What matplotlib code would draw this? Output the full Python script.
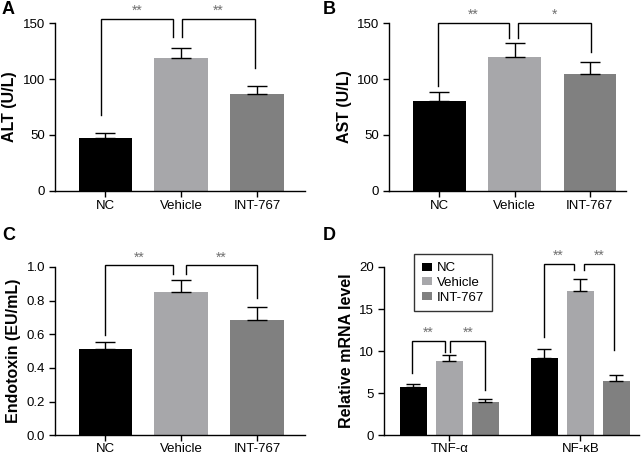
import matplotlib
matplotlib.use('Agg')
import matplotlib.pyplot as plt
from matplotlib.patches import Patch

plt.rcParams['font.family'] = ['Liberation Sans', 'DejaVu Sans']

groups = ['NC', 'Vehicle', 'INT-767']
colors = ['#000000', '#a7a7aa', '#808080']

alt_mean = [47, 119, 87]
alt_err = [5, 9, 7]
ast_mean = [80, 120, 105]
ast_err = [8, 12, 10]
endo_mean = [0.51, 0.85, 0.685]
endo_err = [0.045, 0.07, 0.08]

genes = ['TNF-\u03b1', 'NF-\u03baB']
mrna_nc = [5.7, 9.2]
mrna_nc_err = [0.45, 1.0]
mrna_veh = [8.8, 17.1]
mrna_veh_err = [0.7, 1.5]
mrna_int = [4.0, 6.5]
mrna_int_err = [0.3, 0.65]

# brackets: (x1, x2, top, left leg end, right leg end, label)
alt_brackets = [(-0.05, 0.9, 154, 68, 138, '**'), (1.01, 1.97, 154, 138, 110, '**')]
ast_brackets = [(-0.02, 0.92, 150.5, 94, 137, '**'), (1.05, 2.01, 150.5, 137, 124, '*')]
endo_brackets = [(0.0, 0.89, 1.01, 0.594, 0.96, '**'), (1.07, 2.0, 1.01, 0.96, 0.816, '**')]
mrna_brackets = [(-0.284, -0.037, 11.2, 7.36, 9.93, '**'), (0.006, 0.276, 11.2, 9.93, 5.38, '**'),
                 (-0.28, -0.05, 20.4, 11.7, 19.6, '**'), (0.025, 0.26, 20.4, 19.6, 10.1, '**')]


def style(ax, pad=3):
    for s in ['top', 'right']:
        ax.spines[s].set_visible(False)
    for s in ['left', 'bottom']:
        ax.spines[s].set_linewidth(1.0)
    ax.tick_params(direction='out', length=4, width=1.0, labelsize=9.5, pad=3)
    ax.tick_params(axis='x', pad=pad)


def brackets(ax, items, dy, shift=None):
    for i, (x1, x2, top, b1, b2, lab) in enumerate(items):
        s = shift[i] if shift else 0
        x1, x2 = x1 + s, x2 + s
        ax.plot([x1, x1, x2, x2], [b1, top, top, b2], color='black', lw=1.0,
                clip_on=False, solid_joinstyle='miter')
        ax.text((x1 + x2) / 2, top + dy, lab, ha='center', va='bottom',
                fontsize=10, color='#707070', clip_on=False)


def bar_panel(ax, means, errs, ylim, yticks, ylabel, xlim, items, dy, pad=3):
    x = list(range(len(groups)))
    ax.bar(x, means, width=0.7, color=colors, zorder=2)
    ax.errorbar(x, means, yerr=[[0] * len(errs), errs], fmt='none', ecolor='black',
                elinewidth=1.0, capsize=7, capthick=1.0, zorder=3)
    ax.set_xticks(x)
    ax.set_xticklabels(groups)
    ax.set_ylim(*ylim)
    ax.set_yticks(yticks)
    ax.set_xlim(*xlim)
    ax.set_ylabel(ylabel, fontsize=11.5, fontweight='bold', labelpad=4)
    style(ax, pad)
    brackets(ax, items, dy)


fig = plt.figure(figsize=(6.42, 4.54), dpi=100)
axA = fig.add_axes([0.0857, 0.58, 0.389, 0.3687])
axB = fig.add_axes([0.606, 0.58, 0.369, 0.3687])
axC = fig.add_axes([0.0857, 0.0412, 0.389, 0.3708])
axD = fig.add_axes([0.598, 0.0412, 0.397, 0.3708])

bar_panel(axA, alt_mean, alt_err, (0, 150), [0, 50, 100, 150], 'ALT (U/L)', (-0.66, 2.63), alt_brackets, 0.5)
bar_panel(axB, ast_mean, ast_err, (0, 150), [0, 50, 100, 150], 'AST (U/L)', (-0.67, 2.48), ast_brackets, 0.5)
bar_panel(axC, endo_mean, endo_err, (0, 1.0), [0.0, 0.2, 0.4, 0.6, 0.8, 1.0], 'Endotoxin (EU/mL)',
          (-0.66, 2.63), endo_brackets, 0.004, pad=1.5)
axC.set_yticklabels(['0.0', '0.2', '0.4', '0.6', '0.8', '1.0'])

# panel D grouped bars
gx = [0, 1]
off = 0.275
bw = 0.21
axD.bar([g - off for g in gx], mrna_nc, width=bw, color=colors[0], zorder=2)
axD.bar(gx, mrna_veh, width=bw, color=colors[1], zorder=2)
axD.bar([g + off for g in gx], mrna_int, width=bw, color=colors[2], zorder=2)
for pos, m, e in [([g - off for g in gx], mrna_nc, mrna_nc_err),
                  (gx, mrna_veh, mrna_veh_err),
                  ([g + off for g in gx], mrna_int, mrna_int_err)]:
    axD.errorbar(pos, m, yerr=[[0, 0], e], fmt='none', ecolor='black', elinewidth=1.0,
                 capsize=5, capthick=1.0, zorder=3)
axD.set_xticks(gx)
axD.set_xticklabels(genes)
axD.set_ylim(0, 20)
axD.set_yticks([0, 5, 10, 15, 20])
axD.set_xlim(-0.5, 1.447)
axD.set_ylabel('Relative mRNA level', fontsize=11.5, fontweight='bold', labelpad=4)
style(axD, 1.5)
brackets(axD, mrna_brackets, 0.1, shift=[0, 0, 1, 1])

handles = [Patch(facecolor=c, edgecolor='none') for c in colors]
leg = axD.legend(handles, groups, loc='upper left', bbox_to_anchor=(0.118, 1.075),
                 borderaxespad=0, fontsize=9.5, frameon=True, fancybox=False,
                 handlelength=0.8, handleheight=0.55, handletextpad=0.35,
                 borderpad=0.6, labelspacing=0.2)
leg.get_frame().set_edgecolor('black')
leg.get_frame().set_linewidth(1.0)

for lab, xx, yy in [('A', 0.003, 0.998), ('B', 0.503, 0.998), ('C', 0.003, 0.50), ('D', 0.503, 0.50)]:
    fig.text(xx, yy, lab, fontsize=13, fontweight='bold', ha='left', va='top')

fig.savefig('out.png', dpi=100)
